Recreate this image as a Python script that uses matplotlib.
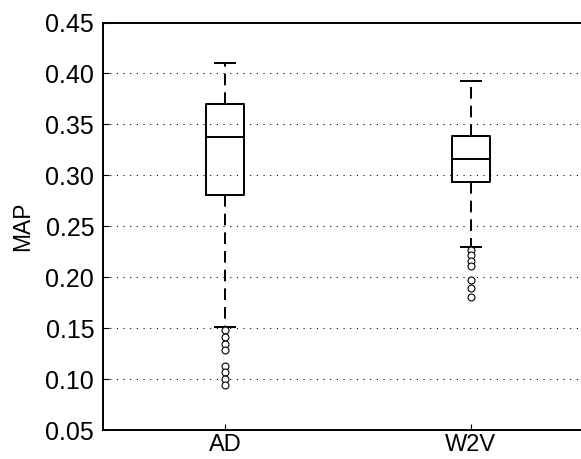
import matplotlib
matplotlib.use("Agg")
import matplotlib.pyplot as plt

plt.rcParams["font.family"] = ["Liberation Sans", "DejaVu Sans"]

labels = ["AD", "W2V"]
whislo = [0.151, 0.230]
q1 = [0.2806, 0.2933]
med = [0.3377, 0.3162]
q3 = [0.370, 0.3384]
whishi = [0.4106, 0.393]
fliers = [
    [0.148, 0.1417, 0.1349, 0.1287, 0.1132, 0.1069, 0.1005, 0.0946],
    [0.227, 0.2216, 0.2162, 0.2108, 0.197, 0.189, 0.181],
]
yticks = [0.05, 0.10, 0.15, 0.20, 0.25, 0.30, 0.35, 0.40, 0.45]

stats = []
for i in range(len(labels)):
    stats.append({
        "label": labels[i],
        "whislo": whislo[i], "q1": q1[i], "med": med[i],
        "q3": q3[i], "whishi": whishi[i], "fliers": fliers[i],
    })

fig = plt.figure(figsize=(5.81, 4.59), dpi=100)
ax = fig.add_axes([102.5 / 581, 29 / 459, 491 / 581, 407.5 / 459])

lw = 1.4
ax.bxp(
    stats,
    positions=[1, 2],
    widths=0.154,
    capwidths=0.082,
    boxprops=dict(color="black", linewidth=lw),
    medianprops=dict(color="black", linewidth=lw),
    whiskerprops=dict(color="black", linewidth=lw, linestyle=(0, (6, 3.6))),
    capprops=dict(color="black", linewidth=lw),
    flierprops=dict(marker="o", markerfacecolor="white", markeredgecolor="black",
                    markersize=5, markeredgewidth=0.8, linestyle="none"),
)

ax.set_xlim(0.5, 2.5)
ax.set_ylim(0.05, 0.45)
ax.set_yticks(yticks)
ax.set_yticklabels([f"{t:.2f}" for t in yticks])
ax.set_xticks([1, 2])
ax.set_xticklabels(labels)
ax.set_ylabel("MAP", fontsize=16.5, labelpad=8)

for t in yticks[1:-1]:
    ax.axhline(t, color="black", linewidth=0.8, linestyle=(0, (1, 5)), zorder=0)

for s in ax.spines.values():
    s.set_linewidth(lw)
ax.tick_params(direction="in", length=4, width=0.8)
ax.tick_params(axis="y", labelsize=18, pad=6)
ax.tick_params(axis="x", labelsize=17, pad=3)
ax.tick_params(top=False, right=False)

fig.savefig("out.png", dpi=100)
